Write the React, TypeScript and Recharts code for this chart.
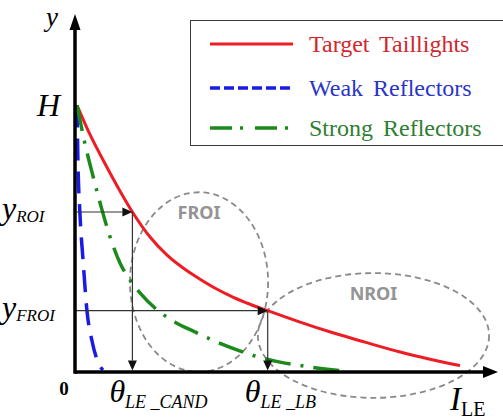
import React from 'react';
import { LineChart, Line, XAxis, YAxis, ReferenceLine, ReferenceArea, ReferenceDot, Legend } from 'recharts';

// ---- data (arbitrary units: x = LE intensity, y = height) ----
const H = 100;
const yROI = 60;
const yFROI = 23;
const thetaCand = 14;
const thetaLB = 47;

const targetTaillights = [
  { x: 0.5, y: 100 }, { x: 3.7, y: 88.9 }, { x: 7.3, y: 78.2 }, { x: 11, y: 67.8 }, { x: 14, y: 60 },
  { x: 18.3, y: 50.6 }, { x: 22.4, y: 43.9 }, { x: 26.8, y: 38.5 }, { x: 30.5, y: 34.8 }, { x: 34.1, y: 31.5 },
  { x: 38.5, y: 28.1 }, { x: 42.7, y: 25.4 }, { x: 47, y: 23 }, { x: 54.9, y: 18.7 }, { x: 62.9, y: 14.7 },
  { x: 70.7, y: 11.2 }, { x: 79.3, y: 7.5 }, { x: 86.6, y: 4.8 }, { x: 93.9, y: 2.4 },
];
const weakReflectors = [
  { x: 0.5, y: 100 }, { x: 0.7, y: 80.5 }, { x: 1.2, y: 59.6 }, { x: 2, y: 41.2 },
  { x: 2.9, y: 23.2 }, { x: 4.1, y: 12 }, { x: 5.4, y: 4.5 }, { x: 6.8, y: 0.7 },
];
const strongReflectors = [
  { x: 0.5, y: 100 }, { x: 2.4, y: 85.8 }, { x: 4.4, y: 73.4 }, { x: 6.6, y: 60.7 }, { x: 8.5, y: 50.9 },
  { x: 11, y: 40.8 }, { x: 13.4, y: 34.5 }, { x: 15.9, y: 29.6 }, { x: 19.5, y: 24 }, { x: 24.4, y: 18.7 },
  { x: 29.3, y: 15 }, { x: 34.1, y: 11.6 }, { x: 39, y: 8.6 }, { x: 43.9, y: 6 }, { x: 50, y: 3.7 },
  { x: 57.3, y: 1.9 }, { x: 66.3, y: 0.2 },
];

const yTicks = [H, yROI, yFROI];
const yTickLabels = [
  { main: 'H', sub: '' },
  { main: 'y', sub: 'ROI' },
  { main: 'y', sub: 'FROI' },
];
const xTicks = [0, thetaCand, thetaLB];
const xTickLabels = [
  { main: '0', sub: '' },
  { main: 'θ', sub: 'LE _CAND' },
  { main: 'θ', sub: 'LE _LB' },
];

// regions of interest
const regions = [
  { name: 'FROI', x1: 13.4, x2: 47.1, y1: 0, y2: 67.4 },
  { name: 'NROI', x1: 44.6, x2: 101, y1: -9.7, y2: 37.1 },
];

const seriesNames = ['Target Taillights', 'Weak Reflectors', 'Strong Reflectors'];

// ---- styles ----
const SERIF = '"Liberation Serif", "Times New Roman", serif';
const RED = '#ee1c24';
const BLUE = '#1a1ae6';
const GREEN = '#1b8a1b';
const legendStyles = [
  { stroke: RED, dash: undefined as string | undefined, width: 3, text: '#d2262d' },
  { stroke: BLUE, dash: '10 4', width: 3.5, text: '#2a35c8' },
  { stroke: GREEN, dash: '22 8 3 12', width: 3.5, text: '#2e7d32' },
];
const legendRowCenters = [23, 67, 107];

const ArrowLine = (props: any) => {
  const { x1, y1, x2, y2 } = props;
  const dx = x2 - x1;
  const dy = y2 - y1;
  const len = Math.hypot(dx, dy) || 1;
  const ux = dx / len;
  const uy = dy / len;
  const L = 10;
  const W = 4.5;
  const bx = x2 - ux * L;
  const by = y2 - uy * L;
  const px = -uy;
  const py = ux;
  return (
    <g>
      <line x1={x1} y1={y1} x2={bx} y2={by} stroke="#333" strokeWidth={1.2} />
      <polygon points={`${x2},${y2} ${bx + px * W},${by + py * W} ${bx - px * W},${by - py * W}`} fill="#111" />
    </g>
  );
};

const makeEllipse = (label: string) => (props: any) => {
  const { x, y, width, height } = props;
  const cx = x + width / 2;
  const cy = y + height / 2;
  return (
    <g>
      <ellipse cx={cx} cy={cy} rx={width / 2} ry={height / 2} fill="none" stroke="#8a8a8a" strokeWidth={1.8} strokeDasharray="6 4" />
      <text x={cx} y={y + 27} textAnchor="middle" fontFamily='"Noto Sans", sans-serif' fontWeight="bold" fontSize={18} fill="#949494">
        {label}
      </text>
    </g>
  );
};

const XArrowHead = (props: any) => {
  const { cx, cy } = props;
  return <polygon points={`${cx - 2},${cy - 6} ${cx + 13},${cy} ${cx - 2},${cy + 6}`} fill="#000" />;
};
const YArrowHead = (props: any) => {
  const { cx, cy } = props;
  return <polygon points={`${cx - 5.5},${cy + 2} ${cx},${cy - 14} ${cx + 5.5},${cy + 2}`} fill="#000" />;
};

const YTick = (props: any) => {
  const { x, y, payload } = props;
  const i = yTicks.indexOf(payload.value);
  const lab = yTickLabels[i];
  if (!lab) return null;
  if (!lab.sub) {
    return (
      <text x={x - 15} y={y + 11} textAnchor="end" fontFamily={SERIF} fontStyle="italic" fontSize={32} fill="#000">
        {lab.main}
      </text>
    );
  }
  return (
    <text x={x - 73} y={y + 7} fontFamily={SERIF} fontStyle="italic" fill="#000">
      <tspan fontSize={32}>{lab.main}</tspan>
      <tspan fontSize={17} dy={3}>{lab.sub}</tspan>
    </text>
  );
};

const XTick = (props: any) => {
  const { x, y, payload } = props;
  const i = xTicks.indexOf(payload.value);
  const lab = xTickLabels[i];
  if (!lab) return null;
  if (!lab.sub) {
    return (
      <text x={x - 11} y={y + 23} textAnchor="middle" fontFamily={SERIF} fontWeight="bold" fontSize={19} fill="#000">
        {lab.main}
      </text>
    );
  }
  return (
    <text x={x - 23} y={y + 30} fontFamily={SERIF} fontStyle="italic" fill="#000">
      <tspan fontSize={32}>{lab.main}</tspan>
      <tspan fontSize={18} dy={6}>{lab.sub}</tspan>
    </text>
  );
};

const XAxisLabel = (props: any) => {
  const vb = props.viewBox || {};
  const x = vb.x + vb.width - 35;
  const y = vb.y + 38;
  return (
    <text x={x} y={y} fontFamily={SERIF} fill="#000">
      <tspan fontStyle="italic" fontSize={33}>I</tspan>
      <tspan fontSize={20} dy={6}>LE</tspan>
    </text>
  );
};

const YAxisLabel = (props: any) => {
  const vb = props.viewBox || {};
  const x = vb.x + vb.width - 17;
  const y = vb.y - 2;
  return (
    <text x={x} y={y} textAnchor="end" fontFamily={SERIF} fontStyle="italic" fontSize={27} fill="#000">
      y
    </text>
  );
};

const LegendBox = () => (
  <div
    style={{
      position: 'relative',
      width: 330,
      height: 126,
      border: '1.5px solid #3a3a3a',
      boxSizing: 'border-box',
      background: '#fff',
    }}
  >
    {seriesNames.map((name, i) => {
      const st = legendStyles[i];
      return (
        <div
          key={name}
          style={{
            position: 'absolute',
            left: 19,
            top: legendRowCenters[i] - 15,
            height: 30,
            display: 'flex',
            alignItems: 'center',
            whiteSpace: 'nowrap',
          }}
        >
          <svg width={84} height={8} style={{ display: 'block' }}>
            <line x1={0} y1={4} x2={83} y2={4} stroke={st.stroke} strokeWidth={st.width} strokeDasharray={st.dash} />
          </svg>
          <span
            style={{
              marginLeft: 15,
              fontFamily: SERIF,
              fontSize: 24,
              lineHeight: '30px',
              color: st.text,
              wordSpacing: 4,
            }}
          >
            {name}
          </span>
        </div>
      );
    })}
  </div>
);

export default function App() {
  return (
    <div style={{ position: 'absolute', left: 0, top: 0, width: 503, height: 420, overflow: 'hidden', background: '#fff' }}>
      <LineChart width={503} height={420} margin={{ top: 28, right: 18, bottom: 0, left: 0 }}>
        <XAxis
          type="number"
          dataKey="x"
          domain={[0, 100]}
          allowDataOverflow
          ticks={xTicks}
          interval={0}
          tickSize={0}
          tickMargin={0}
          tickLine={false}
          height={48}
          axisLine={{ stroke: '#000', strokeWidth: 3.5 }}
          tick={<XTick />}
          label={XAxisLabel}
        />
        <YAxis
          type="number"
          domain={[0, 129]}
          allowDataOverflow
          ticks={yTicks}
          interval={0}
          tickSize={0}
          tickMargin={0}
          tickLine={false}
          width={75}
          axisLine={{ stroke: '#000', strokeWidth: 3.5, strokeLinecap: 'square' }}
          tick={<YTick />}
          label={YAxisLabel}
        />
        <Legend content={LegendBox} layout="horizontal" verticalAlign="middle" align="center" wrapperStyle={{ left: 190, top: 20, width: 330 }} />
        {regions.map((r) => (
          <ReferenceArea
            key={r.name}
            x1={r.x1}
            x2={r.x2}
            y1={r.y1}
            y2={r.y2}
            ifOverflow="visible"
            shape={makeEllipse(r.name)}
          />
        ))}
        <Line data={targetTaillights} dataKey="y" name={seriesNames[0]} type="monotone" stroke={RED} strokeWidth={3} dot={false} isAnimationActive={false} />
        <Line data={weakReflectors} dataKey="y" name={seriesNames[1]} type="monotone" stroke={BLUE} strokeWidth={3.5} strokeDasharray="22 11" dot={false} isAnimationActive={false} />
        <Line data={strongReflectors} dataKey="y" name={seriesNames[2]} type="monotone" stroke={GREEN} strokeWidth={3.5} strokeDasharray="26 10 3 10" dot={false} isAnimationActive={false} />
        <ReferenceLine segment={[{ x: 0, y: yROI }, { x: thetaCand, y: yROI }]} ifOverflow="visible" shape={ArrowLine} />
        <ReferenceLine segment={[{ x: thetaCand, y: yROI }, { x: thetaCand, y: 0.6 }]} ifOverflow="visible" shape={ArrowLine} />
        <ReferenceLine segment={[{ x: 0, y: yFROI }, { x: thetaLB, y: yFROI }]} ifOverflow="visible" shape={ArrowLine} />
        <ReferenceLine segment={[{ x: thetaLB, y: yFROI }, { x: thetaLB, y: 0.6 }]} ifOverflow="visible" shape={ArrowLine} />
        <ReferenceDot x={100} y={0} r={0} ifOverflow="visible" shape={XArrowHead} />
        <ReferenceDot x={0} y={129} r={0} ifOverflow="visible" shape={YArrowHead} />
      </LineChart>
    </div>
  );
}
